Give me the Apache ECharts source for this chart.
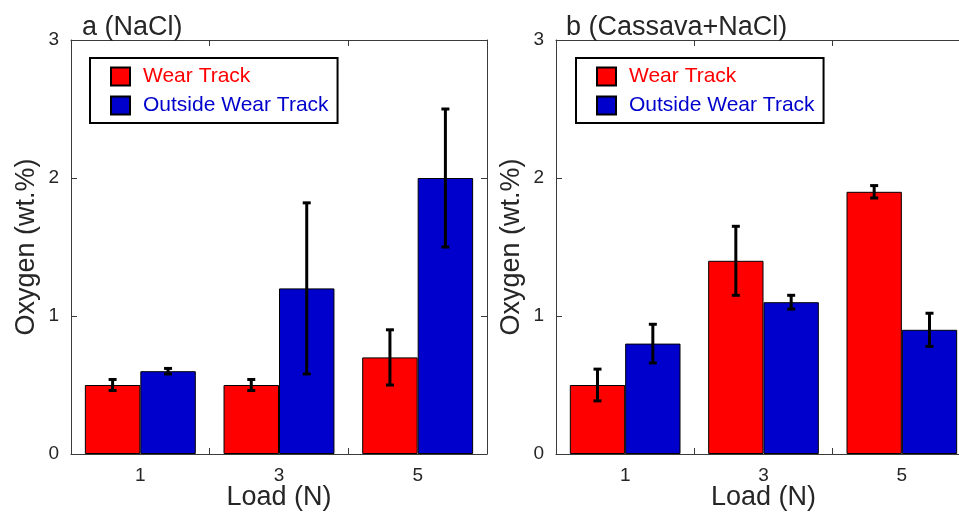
<!DOCTYPE html>
<html>
<head>
<meta charset="utf-8">
<script src="https://cdn.jsdelivr.net/npm/echarts@6/dist/echarts.min.js"></script>
<style>html,body{margin:0;padding:0;background:#fff;}#c{width:959px;height:513px;}</style>
</head>
<body>
<div id="c"></div>
<script>
const categories = ['1', '3', '5'];
const yTicks = [0, 1, 2, 3];
const seriesNames = ['Wear Track', 'Outside Wear Track'];
const panelTitles = ['a (NaCl)', 'b (Cassava+NaCl)'];
// panel a (NaCl)
const aWear = [0.5, 0.5, 0.7];
const aWearErr = [0.04, 0.04, 0.2];
const aOutside = [0.6, 1.2, 2.0];
const aOutsideErr = [0.02, 0.62, 0.5];
// panel b (Cassava+NaCl)
const bWear = [0.5, 1.4, 1.9];
const bWearErr = [0.115, 0.25, 0.045];
const bOutside = [0.8, 1.1, 0.9];
const bOutsideErr = [0.14, 0.05, 0.12];

const RED = '#FF0000', BLUE = '#0000CC', AX = '#3a3a3a', TXT = '#262626';
const FONT = 'Liberation Sans, Arial, sans-serif';

const chart = echarts.init(document.getElementById('c'), null, {renderer: 'canvas'});

const grids = [
  {left: 71, top: 40, width: 416, height: 414, outerBoundsMode: 'none', containLabel: false},
  {left: 556, top: 40, width: 415, height: 414, outerBoundsMode: 'none', containLabel: false}
];

function xAx(gi, pos, labels) {
  return {
    type: 'category', gridIndex: gi, position: pos, data: categories,
    boundaryGap: true,
    axisLine: {show: true, onZero: false, lineStyle: {color: AX, width: 1}},
    axisTick: {show: true, inside: true, length: 6, lineStyle: {color: AX}},
    axisLabel: {show: labels, color: TXT, fontSize: 19, fontFamily: FONT, margin: 12},
    name: labels ? 'Load (N)' : '', nameLocation: 'middle', nameGap: 30,
    nameMoveOverlap: false,
    nameTextStyle: {color: TXT, fontSize: 27, fontFamily: FONT},
    splitLine: {show: false}
  };
}
function yAx(gi, pos, labels) {
  return {
    type: 'value', gridIndex: gi, position: pos, min: 0, max: 3, interval: 1,
    axisLine: {show: true, onZero: false, lineStyle: {color: AX, width: 1}},
    axisTick: {show: true, inside: true, length: 6, lineStyle: {color: AX}},
    axisLabel: {show: labels, color: TXT, fontSize: 19, fontFamily: FONT, margin: 12,
      formatter: v => yTicks.includes(v) ? String(v) : ''},
    name: labels ? 'Oxygen (wt.%)' : '', nameLocation: 'middle', nameGap: 31,
    nameTextStyle: {color: TXT, fontSize: 27, fontFamily: FONT},
    splitLine: {show: false}
  };
}

function barSeries(name, data, xi, yi, color) {
  return {
    name: name, type: 'bar', xAxisIndex: xi, yAxisIndex: yi, data: data,
    barGap: '0%', barCategoryGap: '20%',
    itemStyle: {color: color, borderColor: '#000', borderWidth: 1},
    z: 2
  };
}
function errSeries(vals, errs, xi, yi, off) {
  return {
    type: 'custom', name: 'err', xAxisIndex: xi, yAxisIndex: yi, z: 5,
    data: vals.map((v, i) => [i, v, errs[i]]),
    encode: {x: 0, y: 1},
    renderItem: function (params, api) {
      const i = api.value(0), v = api.value(1), e = api.value(2);
      const band = api.size([1, 0])[0];
      const t = api.coord([i, v + e]);
      const b = api.coord([i, v - e]);
      const x = t[0] + off * band;
      const cw = 4;
      const st = {stroke: '#000', lineWidth: 3};
      return {type: 'group', children: [
        {type: 'line', shape: {x1: x, y1: t[1], x2: x, y2: b[1]}, style: st},
        {type: 'line', shape: {x1: x - cw, y1: t[1], x2: x + cw, y2: t[1]}, style: st},
        {type: 'line', shape: {x1: x - cw, y1: b[1], x2: x + cw, y2: b[1]}, style: st}
      ]};
    }
  };
}

function legend(left) {
  return {
    left: left, top: 58, orient: 'vertical',
    backgroundColor: '#fff', borderColor: '#000', borderWidth: 2,
    padding: [8, 9, 7, 20],
    itemWidth: 19, itemHeight: 18, itemGap: 8, icon: 'rect',
    selectedMode: false,
    data: [
      {name: seriesNames[0], textStyle: {color: RED}},
      {name: seriesNames[1], textStyle: {color: BLUE}}
    ],
    textStyle: {fontSize: 21, fontFamily: FONT, padding: [0, 0, 0, 8], lineHeight: 20}
  };
}

chart.setOption({
  animation: false,
  backgroundColor: '#fff',
  title: [
    {text: panelTitles[0], left: 77, top: 9, textStyle: {color: TXT, fontSize: 27, fontWeight: 'normal', fontFamily: FONT}},
    {text: panelTitles[1], left: 561, top: 9, textStyle: {color: TXT, fontSize: 27, fontWeight: 'normal', fontFamily: FONT}}
  ],
  legend: [legend(90), legend(576)],
  grid: grids,
  xAxis: [xAx(0, 'bottom', true), xAx(0, 'top', false), xAx(1, 'bottom', true), xAx(1, 'top', false)],
  yAxis: [yAx(0, 'left', true), yAx(0, 'right', false), yAx(1, 'left', true), yAx(1, 'right', false)],
  series: [
    barSeries(seriesNames[0], aWear, 0, 0, RED),
    barSeries(seriesNames[1], aOutside, 0, 0, BLUE),
    barSeries(seriesNames[0], bWear, 2, 2, RED),
    barSeries(seriesNames[1], bOutside, 2, 2, BLUE),
    errSeries(aWear, aWearErr, 0, 0, -0.2),
    errSeries(aOutside, aOutsideErr, 0, 0, 0.2),
    errSeries(bWear, bWearErr, 2, 2, -0.2),
    errSeries(bOutside, bOutsideErr, 2, 2, 0.2)
  ]
});
</script>
</body>
</html>
